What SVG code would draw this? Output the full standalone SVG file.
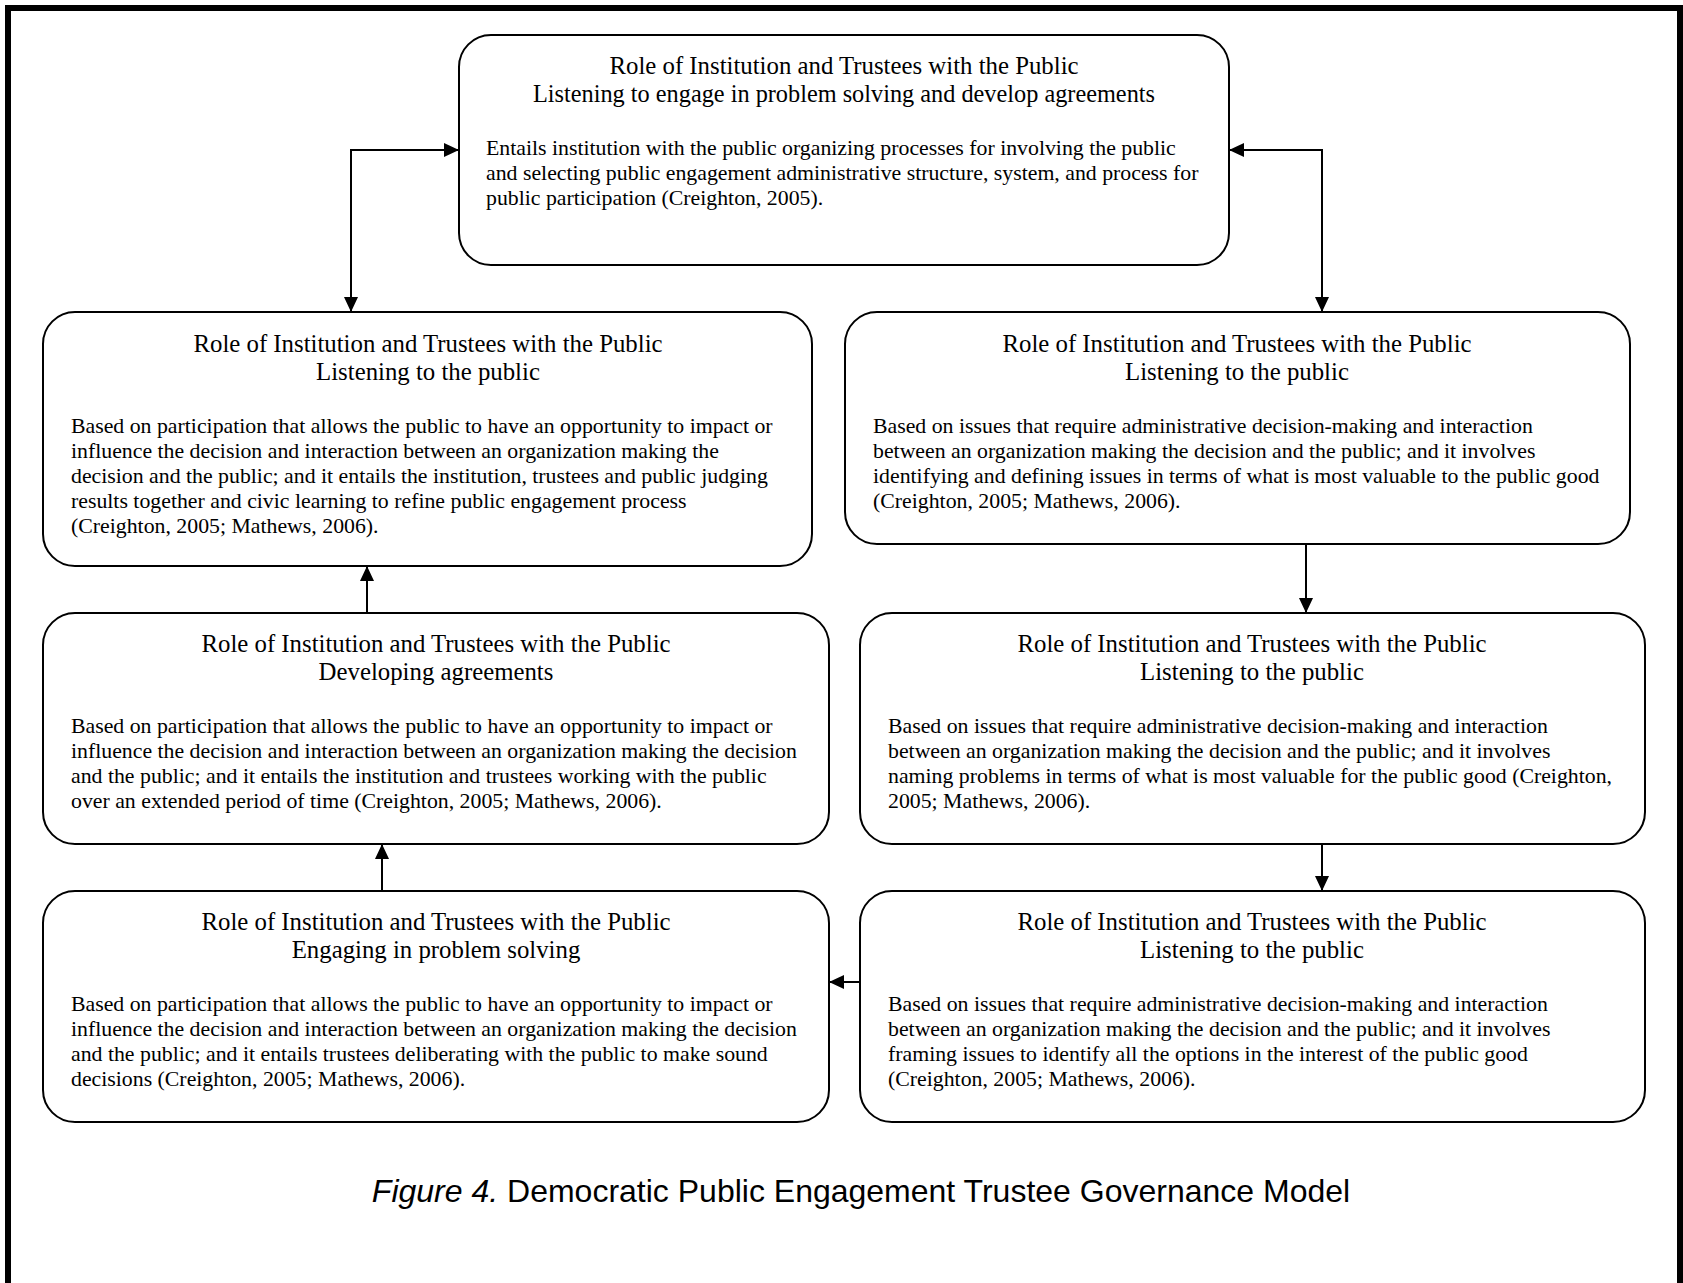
<svg xmlns="http://www.w3.org/2000/svg" width="1683" height="1283" viewBox="0 0 1683 1283">
<style>
.box{fill:#fff;stroke:#000;stroke-width:2}
.t{font-family:"Liberation Serif","Times New Roman",serif;font-size:24.8px;fill:#000;text-anchor:middle}
.b{font-family:"Liberation Serif","Times New Roman",serif;font-size:21.8px;fill:#000}
.c{fill:none;stroke:#000;stroke-width:2}
.cap{font-family:"Liberation Sans",Arial,sans-serif;font-size:32px;fill:#000;text-anchor:middle}
</style>
<defs>
<marker id="ah" markerUnits="userSpaceOnUse" markerWidth="16" markerHeight="14" refX="15" refY="7" orient="auto-start-reverse">
<path d="M0,0 L15,7 L0,14 z" fill="#000"/>
</marker>
</defs>
<rect x="0" y="0" width="1683" height="1283" fill="#fff"/>
<rect x="8" y="8" width="1672" height="1300" fill="none" stroke="#000" stroke-width="6"/>

<g id="connectors">
<path class="c" d="M459,150 L351,150 L351,312" marker-start="url(#ah)" marker-end="url(#ah)"/>
<path class="c" d="M1229,150 L1322,150 L1322,312" marker-start="url(#ah)" marker-end="url(#ah)"/>
<path class="c" d="M367,613 L367,566" marker-end="url(#ah)"/>
<path class="c" d="M382,891 L382,844" marker-end="url(#ah)"/>
<path class="c" d="M1306,544 L1306,613" marker-end="url(#ah)"/>
<path class="c" d="M1322,844 L1322,891" marker-end="url(#ah)"/>
<path class="c" d="M860,982 L829,982" marker-end="url(#ah)"/>
</g>

<g id="node-top">
<rect class="box" x="459" y="35" width="770" height="230" rx="32" ry="32"/>
<text class="t" x="844" y="74">Role of Institution and Trustees with the Public</text>
<text class="t" x="844" y="102" textLength="622" lengthAdjust="spacingAndGlyphs">Listening to engage in problem solving and develop agreements</text>
<text class="b" x="486" y="155">Entails institution with the public organizing processes for involving the public</text>
<text class="b" x="486" y="180">and selecting public engagement administrative structure, system, and process for</text>
<text class="b" x="486" y="205">public participation (Creighton, 2005).</text>
</g>

<g id="node-r2-left">
<rect class="box" x="43" y="312" width="769" height="254" rx="32" ry="32"/>
<text class="t" x="428" y="352">Role of Institution and Trustees with the Public</text>
<text class="t" x="428" y="380">Listening to the public</text>
<text class="b" x="71" y="433">Based on participation that allows the public to have an opportunity to impact or</text>
<text class="b" x="71" y="458">influence the decision and interaction between an organization making the</text>
<text class="b" x="71" y="483">decision and the public; and it entails the institution, trustees and public judging</text>
<text class="b" x="71" y="508">results together and civic learning to refine public engagement process</text>
<text class="b" x="71" y="533">(Creighton, 2005; Mathews, 2006).</text>
</g>

<g id="node-r2-right">
<rect class="box" x="845" y="312" width="785" height="232" rx="32" ry="32"/>
<text class="t" x="1237" y="352">Role of Institution and Trustees with the Public</text>
<text class="t" x="1237" y="380">Listening to the public</text>
<text class="b" x="873" y="433">Based on issues that require administrative decision-making and interaction</text>
<text class="b" x="873" y="458">between an organization making the decision and the public; and it involves</text>
<text class="b" x="873" y="483">identifying and defining issues in terms of what is most valuable to the public good</text>
<text class="b" x="873" y="508">(Creighton, 2005; Mathews, 2006).</text>
</g>

<g id="node-r3-left">
<rect class="box" x="43" y="613" width="786" height="231" rx="32" ry="32"/>
<text class="t" x="436" y="652">Role of Institution and Trustees with the Public</text>
<text class="t" x="436" y="680">Developing agreements</text>
<text class="b" x="71" y="733">Based on participation that allows the public to have an opportunity to impact or</text>
<text class="b" x="71" y="758">influence the decision and interaction between an organization making the decision</text>
<text class="b" x="71" y="783">and the public; and it entails the institution and trustees working with the public</text>
<text class="b" x="71" y="808">over an extended period of time (Creighton, 2005; Mathews, 2006).</text>
</g>

<g id="node-r3-right">
<rect class="box" x="860" y="613" width="785" height="231" rx="32" ry="32"/>
<text class="t" x="1252" y="652">Role of Institution and Trustees with the Public</text>
<text class="t" x="1252" y="680">Listening to the public</text>
<text class="b" x="888" y="733">Based on issues that require administrative decision-making and interaction</text>
<text class="b" x="888" y="758">between an organization making the decision and the public; and it involves</text>
<text class="b" x="888" y="783">naming problems in terms of what is most valuable for the public good (Creighton,</text>
<text class="b" x="888" y="808">2005; Mathews, 2006).</text>
</g>

<g id="node-r4-left">
<rect class="box" x="43" y="891" width="786" height="231" rx="32" ry="32"/>
<text class="t" x="436" y="930">Role of Institution and Trustees with the Public</text>
<text class="t" x="436" y="958">Engaging in problem solving</text>
<text class="b" x="71" y="1011">Based on participation that allows the public to have an opportunity to impact or</text>
<text class="b" x="71" y="1036">influence the decision and interaction between an organization making the decision</text>
<text class="b" x="71" y="1061">and the public; and it entails trustees deliberating with the public to make sound</text>
<text class="b" x="71" y="1086">decisions (Creighton, 2005; Mathews, 2006).</text>
</g>

<g id="node-r4-right">
<rect class="box" x="860" y="891" width="785" height="231" rx="32" ry="32"/>
<text class="t" x="1252" y="930">Role of Institution and Trustees with the Public</text>
<text class="t" x="1252" y="958">Listening to the public</text>
<text class="b" x="888" y="1011">Based on issues that require administrative decision-making and interaction</text>
<text class="b" x="888" y="1036">between an organization making the decision and the public; and it involves</text>
<text class="b" x="888" y="1061">framing issues to identify all the options in the interest of the public good</text>
<text class="b" x="888" y="1086">(Creighton, 2005; Mathews, 2006).</text>
</g>

<text class="cap" x="861" y="1202"><tspan font-style="italic">Figure 4.</tspan> Democratic Public Engagement Trustee Governance Model</text>
</svg>
